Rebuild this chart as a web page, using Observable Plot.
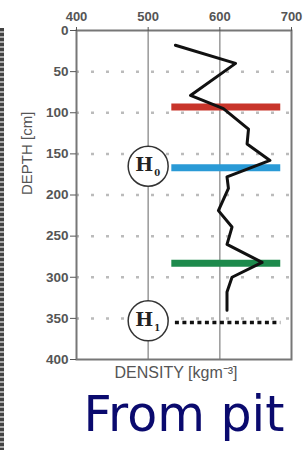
<!DOCTYPE html>
<html>
<head>
<meta charset="utf-8">
<script src="https://cdn.jsdelivr.net/npm/d3@7"></script>
<script src="https://cdn.jsdelivr.net/npm/@observablehq/plot@0.6"></script>
<style>
  html, body { margin: 0; padding: 0; background: #fff; }
  #wrap { position: relative; width: 306px; height: 450px; overflow: hidden; }
  #strip { position: absolute; left: 0; top: 28px; width: 4px; height: 422px;
    background: repeating-linear-gradient(#222 0 3px, #999 3px 5px); opacity: 0.85; }
</style>
</head>
<body>
<div id="wrap"><div id="strip"></div></div>
<script>
// Density profile (from pit)
const depth   = [18, 40, 79, 95, 120, 138, 158, 178, 192, 219, 239, 260, 282, 300, 318, 340];
const density = [538, 622, 559, 605, 640, 638, 670, 610, 612, 598, 617, 610, 659, 617, 610, 610];

// Layer boundary lines
const layerDepth  = [93, 167, 283];
const layerColor  = ["#c8352b", "#2a9ad6", "#1d8a4c"];
const layerStart  = 533;
const layerEnd    = 685;

// Dotted horizon line
const dottedDepth = 355;
const dottedStart = 538;
const dottedEnd   = 685;

// H markers
const hSub    = ["0", "1"];
const hDepth  = [165, 353];
const hDensity = [500, 500];

// Ticks
const xTicks = [400, 500, 600, 700];
const yTicks = [0, 50, 100, 150, 200, 250, 300, 350, 400];
const gridX  = [500, 600];
const gridY  = [50, 100, 150, 200, 250, 300, 350];

const profile = depth.map((d, i) => ({depth: d, density: density[i]}));
const layers = layerDepth.map((d, i) => ({depth: d, color: layerColor[i], x1: layerStart, x2: layerEnd}));
const hs = hSub.map((s, i) => ({sub: s, depth: hDepth[i], density: hDensity[i]}));

const plot = Plot.plot({
  width: 306,
  height: 450,
  marginLeft: 76,
  marginRight: 15,
  marginTop: 30,
  marginBottom: 91,
  style: {fontFamily: "Liberation Sans, Arial, sans-serif", background: "transparent"},
  x: {domain: [400, 700]},
  y: {domain: [0, 400], reverse: true},
  marks: [
    Plot.ruleX(gridX, {stroke: "#999", strokeWidth: 1.5}),
    Plot.ruleY(gridY, {stroke: "#bbb", strokeWidth: 2.5, strokeDasharray: "3,12"}),
    Plot.ruleY(layers, {y: "depth", x1: "x1", x2: "x2", stroke: "color", strokeWidth: 7}),
    Plot.ruleY([dottedDepth], {x1: dottedStart, x2: dottedEnd, stroke: "#111", strokeWidth: 3.5, strokeDasharray: "4,3.5"}),
    Plot.line(profile, {x: "density", y: "depth", stroke: "#111", strokeWidth: 3, strokeLinejoin: "round", strokeLinecap: "round", curve: "linear"}),
    Plot.dot(hs, {x: "density", y: "depth", r: 20, fill: "white", stroke: "#333", strokeWidth: 1.5}),
    Plot.text(hs, {x: "density", y: "depth", text: () => "H", textAnchor: "end", fontFamily: "DejaVu Serif, serif", fontWeight: "bold", fontSize: 19, fill: "#222", dx: 5, dy: -1}),
    Plot.text(hs, {x: "density", y: "depth", text: "sub", textAnchor: "start", fontFamily: "DejaVu Serif, serif", fontWeight: "bold", fontSize: 8.5, fill: "#222", dx: 6, dy: 7}),
    Plot.frame({stroke: "#777", strokeWidth: 2}),
    Plot.axisX({anchor: "top", ticks: xTicks, tickSize: 4, tickPadding: 6, label: null, fontWeight: "bold", fontSize: 13, color: "#555"}),
    Plot.axisY({ticks: yTicks, tickSize: 6, tickPadding: 2, label: null, fontWeight: "bold", fontSize: 13.5, color: "#555"}),
    Plot.text(["DEPTH [cm]"], {frameAnchor: "left", dx: -49, rotate: -90, fontSize: 15, fill: "#555"}),
    Plot.text(["DENSITY [kgm⁻³]"], {frameAnchor: "bottom", dx: -8, dy: 18, fontSize: 16, fill: "#555"}),
    Plot.text(["From pit"], {frameAnchor: "bottom-left", textAnchor: "start", dx: 7, dy: 71, fontSize: 49, fill: "#0a0a6e", fontFamily: "DejaVu Sans, sans-serif"})
  ]
});
plot.style.position = "absolute";
plot.style.left = "0";
plot.style.top = "0";
document.getElementById("wrap").appendChild(plot);
</script>
</body>
</html>
